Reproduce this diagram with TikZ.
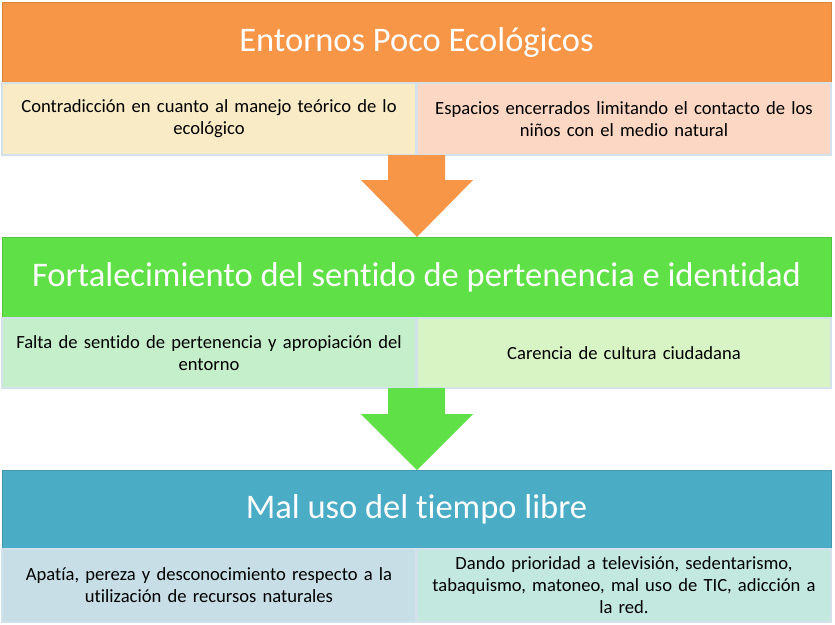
\documentclass[tikz,border=0pt]{standalone}
\usepackage{fontspec}
\setmainfont[Ligatures=NoCommon]{Carlito}
\usepackage{tikz}
\usetikzlibrary{positioning}
\definecolor{naranja}{HTML}{F79646}
\definecolor{verde}{HTML}{5FE046}
\definecolor{azul}{HTML}{4BACC6}
\definecolor{crema}{HTML}{F9EBC6}
\definecolor{durazno}{HTML}{FBD7C4}
\definecolor{menta}{HTML}{C5EFCB}
\definecolor{lima}{HTML}{D8F4C4}
\definecolor{celeste}{HTML}{C8DEE7}
\definecolor{agua}{HTML}{C3E8E0}
\definecolor{borde}{HTML}{D3E2EA}
\begin{document}
\begin{tikzpicture}[x=1pt, y=-1pt, outer sep=0pt,
  titulo/.style={draw=#1!88!black, line width=0.6pt, fill=#1, text=white,
    font=\fontsize{34.5}{40}\selectfont, minimum width=829pt, minimum height=81pt,
    inner sep=0pt, anchor=north west},
  cuadro/.style={draw=borde, line width=1.5pt, fill=#1, text=black,
    font=\fontsize{18.6}{22}\selectfont, minimum width=414pt, minimum height=72pt,
    text width=408pt, align=center, inner sep=0pt}]
  \fill[white] (0,0) rectangle (835,624);
  \useasboundingbox (0,0) rectangle (835,624);

  \node[titulo=naranja] (ent) at (2,2) {Entornos Poco Ecológicos};
  \node[cuadro=crema, below right=0pt and 0pt of ent.south west] (ent-izq)
    {Contradicción en cuanto al manejo teórico de lo\\ecológico};
  \node[cuadro=durazno, right=1pt of ent-izq] (ent-der)
    {Espacios encerrados limitando el contacto de los\\niños con el medio natural};

  \fill[naranja] (388,155) -- (445,155) -- (445,180) -- (473,180) -- (417,237)
    -- (361,180) -- (388,180) -- cycle;

  \node[titulo=verde] (fort) at (2,237) {Fortalecimiento del sentido de pertenencia e identidad};
  \node[cuadro=menta, minimum height=70pt, below right=0pt and 0pt of fort.south west] (fort-izq)
    {Falta de sentido de pertenencia y apropiación del\\entorno};
  \node[cuadro=lima, minimum height=70pt, right=1pt of fort-izq] (fort-der)
    {Carencia de cultura ciudadana};

  \fill[verde] (388,388) -- (445,388) -- (445,414) -- (473,414) -- (417,470)
    -- (361,414) -- (388,414) -- cycle;

  \node[titulo=azul, minimum height=79pt] (mal) at (2,470) {Mal uso del tiempo libre};
  \node[cuadro=celeste, minimum height=73pt, below right=0pt and 0pt of mal.south west] (mal-izq)
    {Apatía, pereza y desconocimiento respecto a la\\utilización de recursos naturales};
  \node[cuadro=agua, minimum height=73pt, right=1pt of mal-izq] (mal-der)
    {Dando prioridad a televisión, sedentarismo,\\tabaquismo, matoneo, mal uso de TIC, adicción a\\la red.};
\end{tikzpicture}
\end{document}
